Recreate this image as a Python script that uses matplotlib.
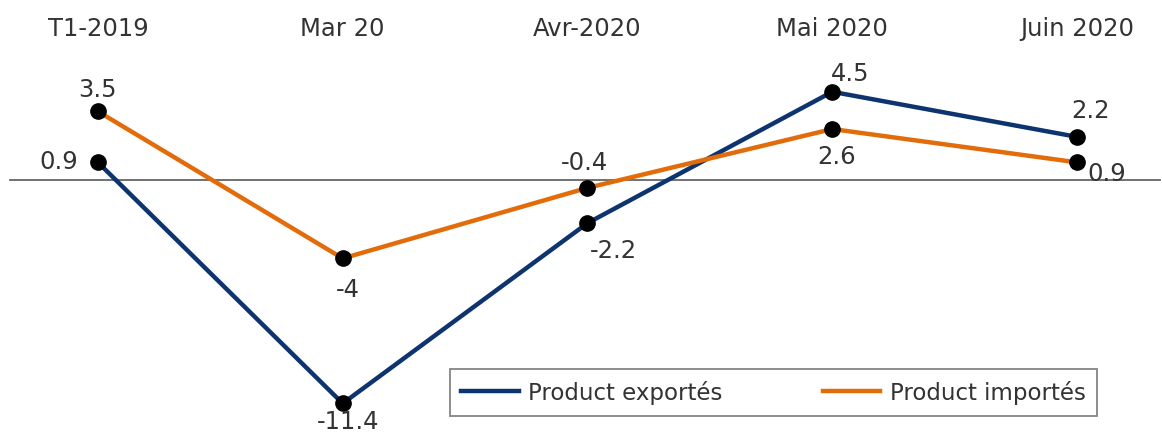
import matplotlib
matplotlib.use("Agg")
import matplotlib.pyplot as plt

categories = ["T1-2019", "Mar 20", "Avr-2020", "Mai 2020", "Juin 2020"]
exports = [0.9, -11.4, -2.2, 4.5, 2.2]
imports = [3.5, -4, -0.4, 2.6, 0.9]
series_names = ["Product exportés", "Product importés"]

# label offsets (pixels) relative to each point
exp_offsets = [(-39, 1), (5, -18), (26, -27), (18, 19), (13, 27)]
imp_offsets = [(0, 22), (5, -31), (-3, 26), (4, -27), (30, -11)]

BLUE = "#0E3470"
ORANGE = "#E36C0A"
TXT = "#333333"

plt.rcParams["font.family"] = ["DejaVu Sans"]
W, H = 1162, 435
fig = plt.figure(figsize=(W / 100, H / 100), dpi=100)
ax = fig.add_axes([0, 0, 1, 1 - 45 / H])

x = list(range(len(categories)))
ax.axhline(0, xmin=10 / W, xmax=1160 / W, color="#666666", lw=1.3, zorder=1)
ax.plot(x, exports, color=BLUE, lw=3.2, zorder=2, label=series_names[0])
ax.plot(x, imports, color=ORANGE, lw=3.2, zorder=2, label=series_names[1])
ax.plot(x, exports, "o", color="black", ms=11, zorder=3)
ax.plot(x, imports, "o", color="black", ms=11, zorder=3)

for xi, v, off in zip(x, exports, exp_offsets):
    ax.annotate(f"{v:g}", (xi, v), xytext=off, textcoords="offset pixels",
                ha="center", va="center", fontsize=17.5, color=TXT, zorder=4)
for xi, v, off in zip(x, imports, imp_offsets):
    ax.annotate(f"{v:g}", (xi, v), xytext=off, textcoords="offset pixels",
                ha="center", va="center", fontsize=17.5, color=TXT, zorder=4)

ax.set_xlim(-98 / 245, 4 + 85 / 245)
ax.set_ylim(-(435 - 181) / 19.6, (181 - 45) / 19.6)
ax.xaxis.tick_top()
ax.set_xticks(x)
ax.set_xticklabels(categories, fontsize=17.5, color=TXT)
ax.tick_params(axis="x", length=0, pad=3)
ax.set_yticks([])
for s in ax.spines.values():
    s.set_visible(False)

leg = ax.legend(loc="upper left", bbox_to_anchor=(450 / W, 1 - 370 / H),
                bbox_transform=fig.transFigure, ncol=2, fontsize=16.5,
                frameon=True, fancybox=False, edgecolor="#666666",
                handlelength=2.5, handletextpad=0.4, columnspacing=4.4,
                borderpad=0.5, borderaxespad=0)
leg.get_frame().set_linewidth(1.3)
for t in leg.get_texts():
    t.set_color(TXT)

fig.savefig("out.png", dpi=100)
